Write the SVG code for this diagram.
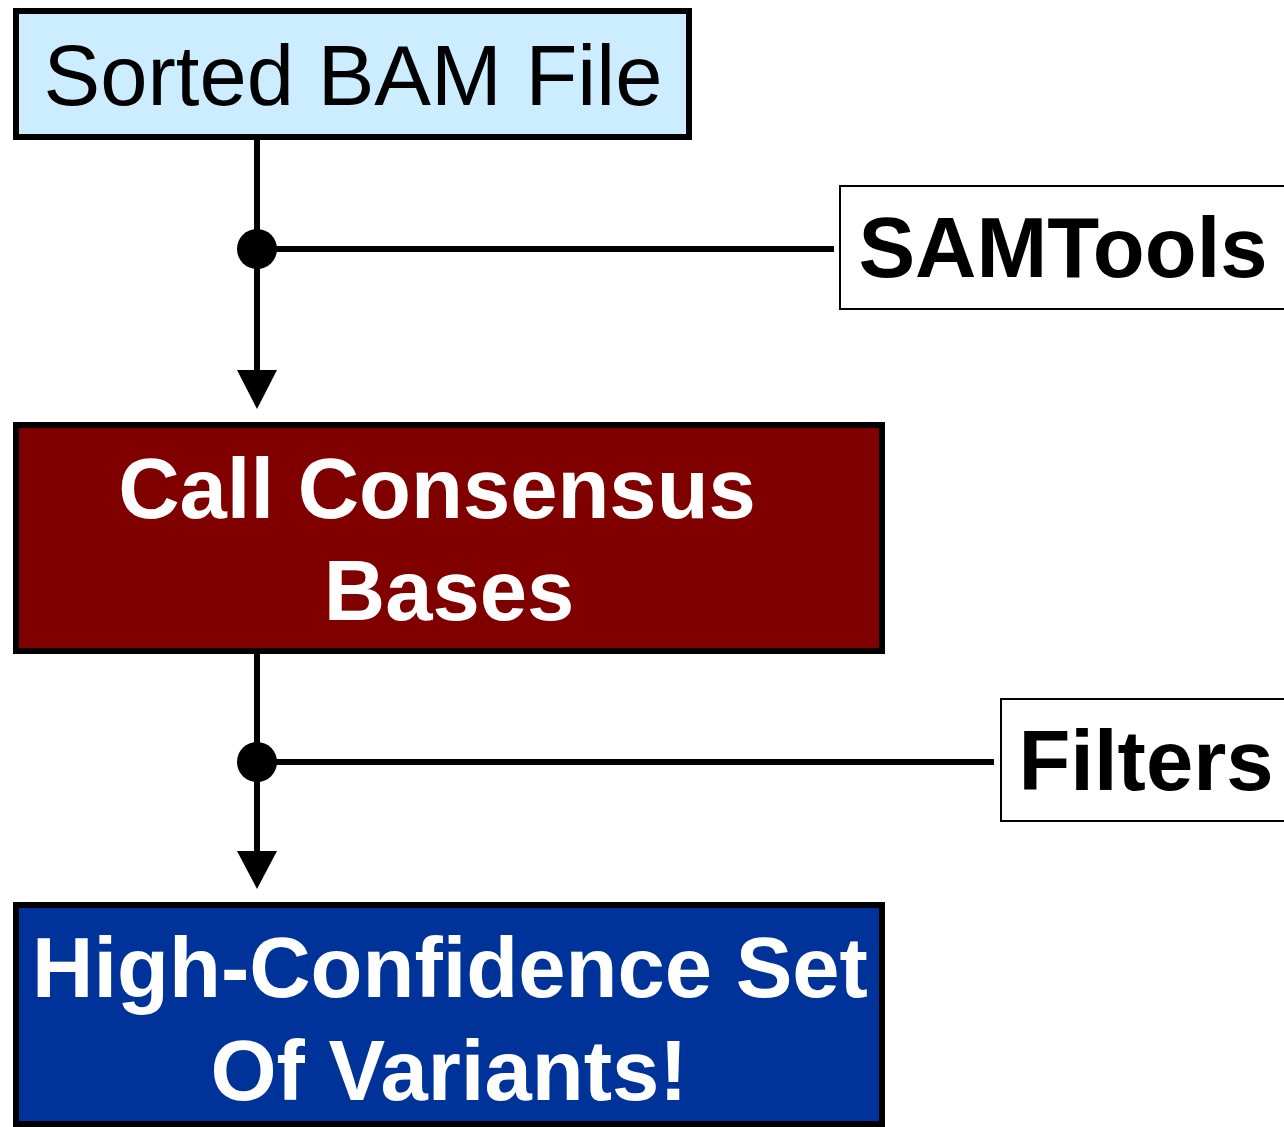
<svg xmlns="http://www.w3.org/2000/svg" width="1284" height="1127" viewBox="0 0 1284 1127">
  <defs>
    <marker id="arrow" markerUnits="userSpaceOnUse" markerWidth="40" markerHeight="40" refX="20" refY="39" orient="auto-start-reverse" viewBox="0 0 40 40">
      <path d="M0,0 L40,0 L20,39 Z" fill="#000"/>
    </marker>
    <style>
      .box { stroke: #000; stroke-width: 6; }
      .tag { fill: #fff; stroke: #000; stroke-width: 2; }
      .wire { stroke: #000; stroke-width: 6; fill: none; }
      .label { font-family: "Liberation Sans", Arial, sans-serif; font-size: 85px; text-anchor: middle; }
      .bold { font-weight: bold; }
    </style>
  </defs>

  <rect width="1284" height="1127" fill="#fff"/>

  <!-- connectors -->
  <g id="connectors">
    <line class="wire" x1="257" y1="140" x2="257" y2="371"/>
    <path d="M237,370 L277,370 L257,409 Z" fill="#000"/>
    <line class="wire" x1="257" y1="249" x2="834" y2="249"/>
    <circle cx="257" cy="249" r="20" fill="#000"/>

    <line class="wire" x1="257" y1="654" x2="257" y2="852"/>
    <path d="M237,851 L277,851 L257,889 Z" fill="#000"/>
    <line class="wire" x1="257" y1="762" x2="994" y2="762"/>
    <circle cx="257" cy="762" r="20" fill="#000"/>
  </g>

  <!-- input file -->
  <g id="sorted-bam">
    <rect class="box" x="16" y="11" width="673" height="126" fill="#CCECFF"/>
    <text class="label" x="353" y="105" fill="#000">Sorted BAM File</text>
  </g>

  <!-- tool annotation -->
  <g id="samtools">
    <rect class="tag" x="840" y="186" width="450" height="123"/>
    <text class="label bold" x="1063" y="277" font-size="83" fill="#000">SAMTools</text>
  </g>

  <!-- consensus calling step -->
  <g id="call-consensus">
    <rect class="box" x="16" y="425" width="866" height="226" fill="#800000"/>
    <text class="label bold" x="437" y="518" fill="#fff">Call Consensus</text>
    <text class="label bold" x="449" y="620" fill="#fff">Bases</text>
  </g>

  <!-- filter annotation -->
  <g id="filters">
    <rect class="tag" x="1001" y="699" width="290" height="122"/>
    <text class="label bold" x="1146" y="790" fill="#000">Filters</text>
  </g>

  <!-- result -->
  <g id="variants">
    <rect class="box" x="16" y="905" width="866" height="219" fill="#003399"/>
    <text class="label bold" x="450" y="997" fill="#fff">High-Confidence Set</text>
    <text class="label bold" x="449" y="1100" fill="#fff">Of Variants!</text>
  </g>
</svg>
